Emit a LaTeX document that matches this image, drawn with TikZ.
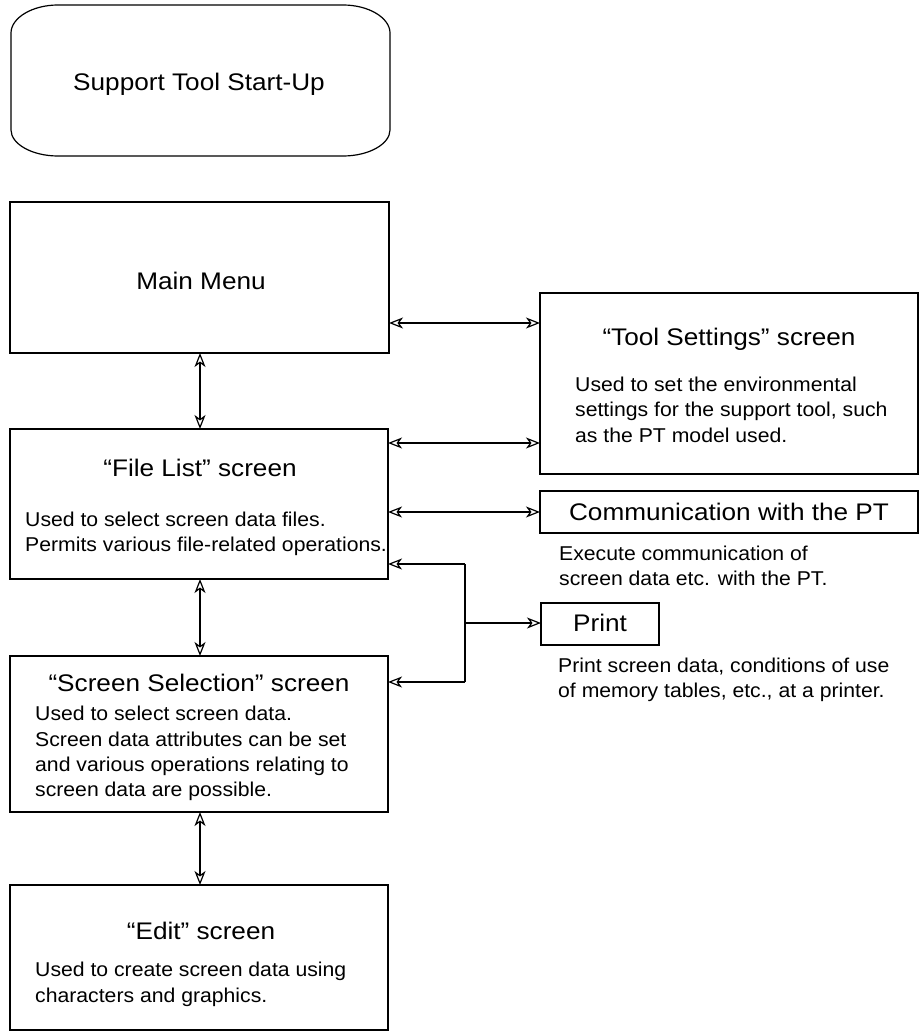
\documentclass[tikz,border=0pt]{standalone}
\usepackage{fontspec}
\setmainfont{Liberation Sans}
\newfontfamily\ttlfont[FakeStretch=1.09]{Liberation Sans}
\newfontfamily\bdfont[FakeStretch=1.06]{Liberation Sans}
\usetikzlibrary{arrows.meta}
\begin{document}
\begin{tikzpicture}[x=1pt,y=-1pt,
  box/.style={draw, line width=1.2pt, anchor=north west, inner sep=0pt, outer sep=0pt},
  ttl/.style={font=\ttlfont\fontsize{24}{29}\selectfont, inner sep=0pt, anchor=base},
  bd/.style={font=\bdfont\fontsize{20}{25.3}\selectfont, align=left, inner sep=0pt, anchor=north west},
  tip/.tip={Stealth[open, length=14pt, width=11pt, inset=4pt]},
  link/.style={line width=1.2pt, tip-tip},
  onelink/.style={line width=1.2pt, -tip},
  wire/.style={line width=1.2pt}]
\useasboundingbox (0,0) rectangle (919,1032);

% start-up
\draw[line width=1.2pt] (58,5) -- (343,5) .. controls (369,5) and (390,18) .. (390,33)
  -- (390,130) .. controls (390,144) and (369,156) .. (343,156)
  -- (58,156) .. controls (32,156) and (11,144) .. (11,130)
  -- (11,33) .. controls (11,18) and (32,5) .. (58,5) -- cycle;
\node[ttl] (startT) at (199,90.5) {Support Tool Start-Up};

% boxes
\node[box, minimum width=379pt, minimum height=151pt] (main) at (10,202) {};
\node[ttl] (mainT) at (201,289) {Main Menu};

\node[box, minimum width=378pt, minimum height=181pt] (tool) at (540,293) {};
\node[ttl] (toolT) at (729,345) {“Tool Settings” screen};
\node[bd] (toolD) at (575,377) {Used to set the environmental\\settings for the support tool, such\\as the PT model used.};

\node[box, minimum width=378pt, minimum height=150pt] (file) at (10,429) {};
\node[ttl] (fileT) at (200,476) {“File List” screen};
\node[bd] (fileD) at (25,512) {Used to select screen data files.\\Permits various file-related operations.};

\node[box, minimum width=378pt, minimum height=42pt] (comm) at (540,491) {};
\node[ttl] (commT) at (729,520) {Communication with the PT};
\node[bd] (commD) at (559,546) {Execute communication of\\screen data etc. with the PT.};

\node[box, minimum width=118pt, minimum height=42pt] (print) at (541,603) {};
\node[ttl] (printT) at (600,631.5) {Print};
\node[bd] (printD) at (558,658) {Print screen data, conditions of use\\of memory tables, etc., at a printer.};

\node[box, minimum width=378pt, minimum height=156pt] (sel) at (10,656) {};
\node[ttl] (selT) at (199,691.5) {“Screen Selection” screen};
\node[bd] (selD) at (35,706) {Used to select screen data.\\Screen data attributes can be set\\and various operations relating to\\screen data are possible.};

\node[box, minimum width=378pt, minimum height=145pt] (edit) at (10,885) {};
\node[ttl] (editT) at (201,939) {“Edit” screen};
\node[bd] (editD) at (35,962) {Used to create screen data using\\characters and graphics.};

% connectors
\draw[link] (main.east |- 0,323) -- (tool.west |- 0,323);
\draw[link] (file.east |- 0,443) -- (tool.west |- 0,443);
\draw[link] (file.east |- 0,512) -- (comm.west |- 0,512);
\draw[link] (main.south -| 200,0) -- (file.north -| 200,0);
\draw[link] (file.south -| 200,0) -- (sel.north -| 200,0);
\draw[link] (sel.south -| 200,0) -- (edit.north -| 200,0);

\coordinate (jt) at (465,564);
\coordinate (jb) at (465,682);
\coordinate (jm) at (465,623);
\draw[wire] (jt) -- (jb);
\draw[onelink] (jt) -- (file.east |- jt);
\draw[onelink] (jb) -- (sel.east |- jb);
\draw[onelink] (jm) -- (print.west |- jm);
\end{tikzpicture}
\end{document}
